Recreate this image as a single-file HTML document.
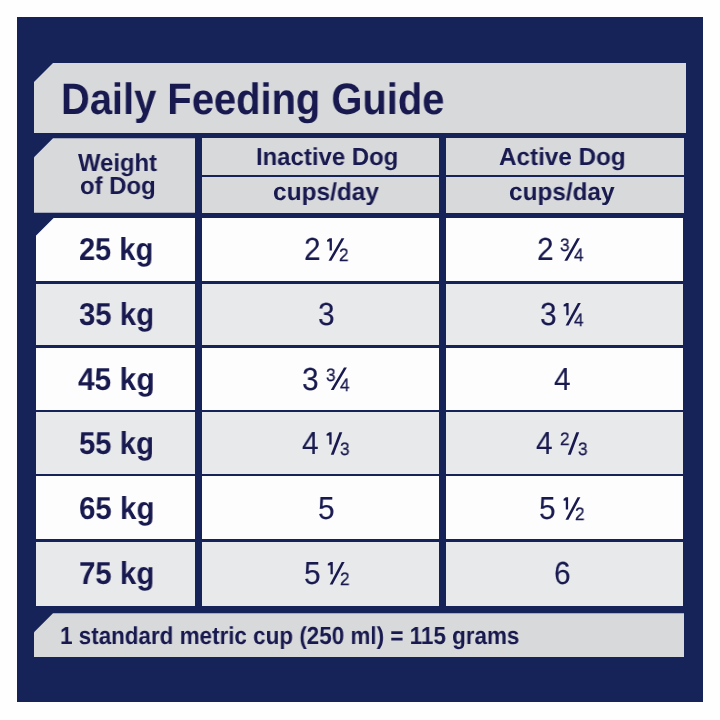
<!DOCTYPE html>
<html><head><meta charset="utf-8"><style>
html,body{margin:0;padding:0;background:#fefefe;width:720px;height:720px;overflow:hidden;}
.b{position:absolute;}
.t{position:absolute;white-space:nowrap;text-rendering:geometricPrecision;color:#18194f;font-family:"Liberation Sans",sans-serif;transform-origin:0 0;will-change:transform;}
svg{position:absolute;left:0;top:0;}
</style></head><body>
<div class="b" style="left:17px;top:17px;width:686.00px;height:685.00px;background:#162358;"></div>
<div class="b" style="left:34px;top:63px;width:652.00px;height:70.00px;background:#d8d9db;clip-path:polygon(19px 0,100% 0,100% 100%,0 100%,0 19px);"></div>
<div class="b" style="left:34px;top:138.3px;width:161.00px;height:74.50px;background:#d8d9db;clip-path:polygon(19px 0,100% 0,100% 100%,0 100%,0 19px);"></div>
<div class="b" style="left:201.5px;top:138.3px;width:237.50px;height:36.70px;background:#d8d9db;"></div>
<div class="b" style="left:201.5px;top:177.2px;width:237.50px;height:35.60px;background:#d8d9db;"></div>
<div class="b" style="left:445.8px;top:138.3px;width:238.20px;height:36.70px;background:#d8d9db;"></div>
<div class="b" style="left:445.8px;top:177.2px;width:238.20px;height:35.60px;background:#d8d9db;"></div>
<div class="b" style="left:35.6px;top:218px;width:159.40px;height:63.10px;background:#fdfdfd;clip-path:polygon(18px 0,100% 0,100% 100%,0 100%,0 18px);"></div>
<div class="b" style="left:201.5px;top:218px;width:237.50px;height:63.10px;background:#fdfdfd;"></div>
<div class="b" style="left:445.8px;top:218px;width:237.20px;height:63.10px;background:#fdfdfd;"></div>
<div class="b" style="left:35.6px;top:283.6px;width:159.40px;height:61.70px;background:#e8e9eb;"></div>
<div class="b" style="left:201.5px;top:283.6px;width:237.50px;height:61.70px;background:#e8e9eb;"></div>
<div class="b" style="left:445.8px;top:283.6px;width:237.20px;height:61.70px;background:#e8e9eb;"></div>
<div class="b" style="left:35.6px;top:347.8px;width:159.40px;height:61.90px;background:#fdfdfd;"></div>
<div class="b" style="left:201.5px;top:347.8px;width:237.50px;height:61.90px;background:#fdfdfd;"></div>
<div class="b" style="left:445.8px;top:347.8px;width:237.20px;height:61.90px;background:#fdfdfd;"></div>
<div class="b" style="left:35.6px;top:411.9px;width:159.40px;height:62.00px;background:#e8e9eb;"></div>
<div class="b" style="left:201.5px;top:411.9px;width:237.50px;height:62.00px;background:#e8e9eb;"></div>
<div class="b" style="left:445.8px;top:411.9px;width:237.20px;height:62.00px;background:#e8e9eb;"></div>
<div class="b" style="left:35.6px;top:476px;width:159.40px;height:62.90px;background:#fdfdfd;"></div>
<div class="b" style="left:201.5px;top:476px;width:237.50px;height:62.90px;background:#fdfdfd;"></div>
<div class="b" style="left:445.8px;top:476px;width:237.20px;height:62.90px;background:#fdfdfd;"></div>
<div class="b" style="left:35.6px;top:541.9px;width:159.40px;height:64.50px;background:#e8e9eb;"></div>
<div class="b" style="left:201.5px;top:541.9px;width:237.50px;height:64.50px;background:#e8e9eb;"></div>
<div class="b" style="left:445.8px;top:541.9px;width:237.20px;height:64.50px;background:#e8e9eb;"></div>
<div class="b" style="left:34px;top:613.3px;width:650.20px;height:43.60px;background:#d8d9db;clip-path:polygon(19px 0,100% 0,100% 100%,0 100%,0 19px);"></div>
<div class="t" style="left:60.68px;top:74.76px;font-size:43.9px;line-height:49.05px;font-weight:700;transform:scaleX(0.9087);">Daily Feeding Guide</div>
<div class="t" style="left:77.60px;top:149.83px;font-size:24.6px;line-height:27.48px;font-weight:700;transform:scaleX(0.9698);">Weight</div>
<div class="t" style="left:79.83px;top:172.63px;font-size:24.6px;line-height:27.48px;font-weight:700;transform:scaleX(0.9728);">of Dog</div>
<div class="t" style="left:256.02px;top:144.23px;font-size:24.6px;line-height:27.48px;font-weight:700;transform:scaleX(0.9727);">Inactive Dog</div>
<div class="t" style="left:272.91px;top:178.83px;font-size:24.6px;line-height:27.48px;font-weight:700;transform:scaleX(0.9934);">cups/day</div>
<div class="t" style="left:499.39px;top:144.23px;font-size:24.6px;line-height:27.48px;font-weight:700;transform:scaleX(0.9853);">Active Dog</div>
<div class="t" style="left:509.01px;top:178.83px;font-size:24.6px;line-height:27.48px;font-weight:700;transform:scaleX(0.9896);">cups/day</div>
<div class="t" style="left:59.73px;top:622.93px;font-size:24.6px;line-height:27.48px;font-weight:700;transform:scaleX(0.9119);">1 standard metric cup (250 ml) = 115 grams</div>
<div class="t" style="left:78.97px;top:232.10px;font-size:31.7px;line-height:35.42px;font-weight:700;transform:scaleX(0.9163);">25 kg</div>
<div class="t" style="left:78.91px;top:297.10px;font-size:31.7px;line-height:35.42px;font-weight:700;transform:scaleX(0.9267);">35 kg</div>
<div class="t" style="left:77.93px;top:362.10px;font-size:31.7px;line-height:35.42px;font-weight:700;transform:scaleX(0.9454);">45 kg</div>
<div class="t" style="left:79.08px;top:426.10px;font-size:31.7px;line-height:35.42px;font-weight:700;transform:scaleX(0.9245);">55 kg</div>
<div class="t" style="left:78.56px;top:491.10px;font-size:31.7px;line-height:35.42px;font-weight:700;transform:scaleX(0.9311);">65 kg</div>
<div class="t" style="left:78.72px;top:556.10px;font-size:31.7px;line-height:35.42px;font-weight:700;transform:scaleX(0.9290);">75 kg</div>
<div class="t" style="left:317.85px;top:296.83px;font-size:32px;line-height:35.75px;font-weight:400;transform:scaleX(0.9300);-webkit-text-stroke:0.15px #18194f;">3</div>
<div class="t" style="left:553.70px;top:361.83px;font-size:32px;line-height:35.75px;font-weight:400;transform:scaleX(0.9300);-webkit-text-stroke:0.15px #18194f;">4</div>
<div class="t" style="left:318.40px;top:490.83px;font-size:32px;line-height:35.75px;font-weight:400;transform:scaleX(0.9300);-webkit-text-stroke:0.15px #18194f;">5</div>
<div class="t" style="left:553.68px;top:555.83px;font-size:32px;line-height:35.75px;font-weight:400;transform:scaleX(0.9300);-webkit-text-stroke:0.15px #18194f;">6</div>
<div class="t" style="left:303.80px;top:231.83px;font-size:32px;line-height:35.75px;font-weight:400;transform:scaleX(0.9300);-webkit-text-stroke:0.15px #18194f;">2</div>
<div class="t" style="left:339.10px;top:244.51px;font-size:18px;line-height:20.11px;font-weight:400;transform:scaleX(0.9500);-webkit-text-stroke:0.3px #18194f;">2</div>
<div class="t" style="left:537.15px;top:231.83px;font-size:32px;line-height:35.75px;font-weight:400;transform:scaleX(0.9300);-webkit-text-stroke:0.15px #18194f;">2</div>
<div class="t" style="left:559.85px;top:234.51px;font-size:18px;line-height:20.11px;font-weight:400;transform:scaleX(0.9500);-webkit-text-stroke:0.3px #18194f;">3</div>
<div class="t" style="left:573.66px;top:244.51px;font-size:18px;line-height:20.11px;font-weight:400;transform:scaleX(0.9500);-webkit-text-stroke:0.3px #18194f;">4</div>
<div class="t" style="left:539.85px;top:296.83px;font-size:32px;line-height:35.75px;font-weight:400;transform:scaleX(0.9300);-webkit-text-stroke:0.15px #18194f;">3</div>
<div class="t" style="left:574.41px;top:309.51px;font-size:18px;line-height:20.11px;font-weight:400;transform:scaleX(0.9500);-webkit-text-stroke:0.3px #18194f;">4</div>
<div class="t" style="left:302.40px;top:361.83px;font-size:32px;line-height:35.75px;font-weight:400;transform:scaleX(0.9300);-webkit-text-stroke:0.15px #18194f;">3</div>
<div class="t" style="left:326.25px;top:364.51px;font-size:18px;line-height:20.11px;font-weight:400;transform:scaleX(0.9500);-webkit-text-stroke:0.3px #18194f;">3</div>
<div class="t" style="left:340.31px;top:374.51px;font-size:18px;line-height:20.11px;font-weight:400;transform:scaleX(0.9500);-webkit-text-stroke:0.3px #18194f;">4</div>
<div class="t" style="left:302.40px;top:425.83px;font-size:32px;line-height:35.75px;font-weight:400;transform:scaleX(0.9300);-webkit-text-stroke:0.15px #18194f;">4</div>
<div class="t" style="left:340.05px;top:438.51px;font-size:18px;line-height:20.11px;font-weight:400;transform:scaleX(0.9500);-webkit-text-stroke:0.3px #18194f;">3</div>
<div class="t" style="left:536.25px;top:425.83px;font-size:32px;line-height:35.75px;font-weight:400;transform:scaleX(0.9300);-webkit-text-stroke:0.15px #18194f;">4</div>
<div class="t" style="left:560.15px;top:428.51px;font-size:18px;line-height:20.11px;font-weight:400;transform:scaleX(0.9500);-webkit-text-stroke:0.3px #18194f;">2</div>
<div class="t" style="left:577.50px;top:438.51px;font-size:18px;line-height:20.11px;font-weight:400;transform:scaleX(0.9500);-webkit-text-stroke:0.3px #18194f;">3</div>
<div class="t" style="left:539.45px;top:490.83px;font-size:32px;line-height:35.75px;font-weight:400;transform:scaleX(0.9300);-webkit-text-stroke:0.15px #18194f;">5</div>
<div class="t" style="left:575.45px;top:503.51px;font-size:18px;line-height:20.11px;font-weight:400;transform:scaleX(0.9500);-webkit-text-stroke:0.3px #18194f;">2</div>
<div class="t" style="left:303.90px;top:555.83px;font-size:32px;line-height:35.75px;font-weight:400;transform:scaleX(0.9300);-webkit-text-stroke:0.15px #18194f;">5</div>
<div class="t" style="left:339.85px;top:568.51px;font-size:18px;line-height:20.11px;font-weight:400;transform:scaleX(0.9500);-webkit-text-stroke:0.3px #18194f;">2</div>
<svg width="720" height="720" viewBox="0 0 720 720" fill="#18194f">
<path d="M329.60 238.20H331.90V250.60H329.60V241.60L327.10 241.80V240.10Z"/>
<path d="M328.50 260.80L331.40 260.80L344.40 238.20L341.50 238.20Z"/>
<path d="M564.40 260.80L567.30 260.80L580.00 238.20L577.10 238.20Z"/>
<path d="M566.30 302.90H568.60V315.30H566.30V306.30L563.60 306.50V304.80Z"/>
<path d="M565.60 325.50L568.50 325.50L580.80 302.90L577.90 302.90Z"/>
<path d="M330.80 390.10L333.70 390.10L346.90 367.50L344.00 367.50Z"/>
<path d="M329.30 432.20H331.60V444.60H329.30V435.60L326.60 435.80V434.10Z"/>
<path d="M330.80 454.80L333.70 454.80L342.30 432.20L339.40 432.20Z"/>
<path d="M567.80 454.80L570.70 454.80L579.20 432.20L576.30 432.20Z"/>
<path d="M565.80 497.20H568.10V509.60H565.80V500.60L563.60 500.80V499.10Z"/>
<path d="M565.50 519.80L568.40 519.80L580.40 497.20L577.50 497.20Z"/>
<path d="M330.50 561.90H332.80V574.30H330.50V565.30L327.80 565.50V563.80Z"/>
<path d="M329.70 584.50L332.60 584.50L344.60 561.90L341.70 561.90Z"/>
</svg>
</body></html>
